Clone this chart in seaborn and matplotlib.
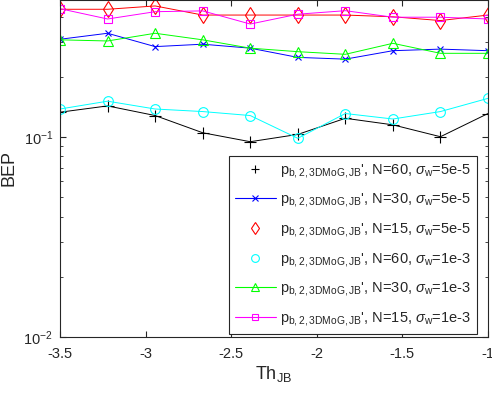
import numpy as np
import pandas as pd
import matplotlib
matplotlib.use("Agg")
import matplotlib.pyplot as plt
from matplotlib.lines import Line2D
from matplotlib.ticker import LogLocator, LogFormatterSciNotation
import seaborn as sns

# threshold values on the x axis
th_jb = [-3.5, -3.2222, -2.9444, -2.6667, -2.3889, -2.1111, -1.8333, -1.5556, -1.2778, -1.0]

# BEP per configuration
bep_n60_5e5 = [0.133, 0.143, 0.128, 0.105, 0.0947, 0.103, 0.124, 0.115, 0.1003, 0.131]
bep_n30_5e5 = [0.308, 0.330, 0.283, 0.291, 0.278, 0.250, 0.245, 0.270, 0.275, 0.270]
bep_n15_5e5 = [0.435, 0.435, 0.452, 0.407, 0.407, 0.407, 0.407, 0.399, 0.382, 0.407]
bep_n60_1e3 = [0.138, 0.151, 0.138, 0.134, 0.128, 0.0985, 0.131, 0.123, 0.134, 0.156]
bep_n30_1e3 = [0.306, 0.302, 0.330, 0.306, 0.278, 0.267, 0.259, 0.294, 0.262, 0.262]
bep_n15_1e3 = [0.438, 0.389, 0.423, 0.427, 0.367, 0.411, 0.428, 0.397, 0.397, 0.389]

labels = [
    r"p$_{\mathrm{b,2,3DMoG,JB}}$', N=60, $\sigma_{\mathrm{w}}$=5e-5",
    r"p$_{\mathrm{b,2,3DMoG,JB}}$', N=30, $\sigma_{\mathrm{w}}$=5e-5",
    r"p$_{\mathrm{b,2,3DMoG,JB}}$', N=15, $\sigma_{\mathrm{w}}$=5e-5",
    r"p$_{\mathrm{b,2,3DMoG,JB}}$', N=60, $\sigma_{\mathrm{w}}$=1e-3",
    r"p$_{\mathrm{b,2,3DMoG,JB}}$', N=30, $\sigma_{\mathrm{w}}$=1e-3",
    r"p$_{\mathrm{b,2,3DMoG,JB}}$', N=15, $\sigma_{\mathrm{w}}$=1e-3",
]
series = [bep_n60_5e5, bep_n30_5e5, bep_n15_5e5, bep_n60_1e3, bep_n30_1e3, bep_n15_1e3]
colors = ["#000000", "#0000ff", "#ff0000", "#00ffff", "#00ff00", "#ff00ff"]
markers = ["+", "x", "d", "o", "^", "s"]
msizes = [8, 5, 8, 7, 7, 6]
legend_line = [False, True, False, False, True, True]

sns.set_style("ticks")
plt.rcParams["font.family"] = ["Liberation Sans", "DejaVu Sans"]
plt.rcParams["mathtext.fontset"] = "custom"
plt.rcParams["mathtext.rm"] = "Liberation Sans"
plt.rcParams["mathtext.it"] = "Liberation Sans:italic"
plt.rcParams["mathtext.sf"] = "Liberation Sans"

fig = plt.figure(figsize=(4.92, 3.94), dpi=100)
ax = fig.add_axes([60 / 492, 57 / 394, 428 / 492, 337 / 394])

for vals, c, m, ms in zip(series, colors, markers, msizes):
    df = pd.DataFrame({"x": th_jb, "y": vals})
    sns.lineplot(data=df, x="x", y="y", ax=ax, color=c, marker=m, markersize=ms,
                 markerfacecolor="none", markeredgecolor=c, markeredgewidth=0.8,
                 linewidth=0.7, legend=False)

ax.set_yscale("log")
ax.set_xlim(-3.5, -1)
ax.set_ylim(0.01, 0.484)
ax.set_xticks([-3.5, -3, -2.5, -2, -1.5, -1])
ax.set_xticklabels(["-3.5", "-3", "-2.5", "-2", "-1.5", "-1"])
ax.yaxis.set_major_locator(LogLocator(base=10))
ax.yaxis.set_minor_locator(LogLocator(base=10, subs=np.arange(2, 10)))
ax.yaxis.set_major_formatter(LogFormatterSciNotation())
ax.tick_params(which="both", direction="in", top=True, right=True, labelsize=10.5, colors="#262626")
ax.tick_params(which="major", length=4)
ax.tick_params(which="minor", length=2.5)
ax.tick_params(axis="x", which="major", pad=7)
ax.tick_params(axis="y", which="major", pad=5)
for sp in ax.spines.values():
    sp.set_linewidth(0.8)
    sp.set_color("#262626")

ax.set_xlabel(r"Th$_{\mathrm{JB}}$", fontsize=13, color="#262626", labelpad=2)
ax.set_ylabel("BEP", fontsize=13, color="#262626")

handles = []
for c, m, ms, ln in zip(colors, markers, msizes, legend_line):
    handles.append(Line2D([], [], color=c, marker=m, markersize=ms * 0.8,
                          markerfacecolor="none", markeredgecolor=c, markeredgewidth=0.8,
                          linewidth=0.8 if ln else 0, linestyle="-" if ln else "none"))
leg = ax.legend(handles, labels, loc="lower right", bbox_to_anchor=(0.974, 0.009),
                fontsize=10.5, frameon=True, fancybox=False, framealpha=1,
                edgecolor="#262626", handlelength=2.8, handletextpad=0.3,
                labelspacing=0.8, borderpad=0.4, borderaxespad=0)
leg.get_frame().set_linewidth(0.8)

fig.savefig("out.png", dpi=100)
